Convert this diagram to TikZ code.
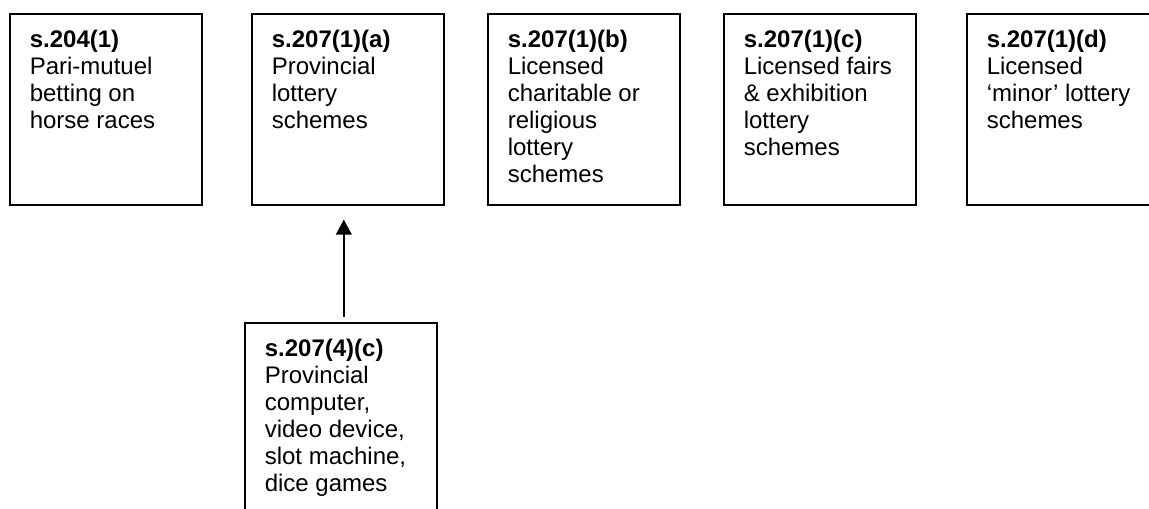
\documentclass[tikz,border=0pt]{standalone}
\usepackage{fontspec}
\setmainfont{Liberation Sans}
\usetikzlibrary{arrows.meta}

\newcommand{\provision}[2]{\parbox[t][143.25pt][t]{144pt}{\fontsize{18pt}{20.25pt}\selectfont\raggedright\leftskip=15pt\rule{0pt}{25.5pt}\textbf{#1}\\#2}}

\begin{document}
\begin{tikzpicture}[>={Triangle[length=11.25pt,width=11.75pt]}, x=0.75pt, y=-0.75pt,
  provbox/.style={draw, line width=1.2pt, anchor=north west, inner sep=0pt}]
\useasboundingbox (0,0) rectangle (1149,508);
\clip (0,0) rectangle (1149,508);
\node[provbox] (Horse) at (9,13) {\provision{s.204(1)}{Pari-mutuel\\betting on\\horse races}};
\node[provbox] (Lottery) at (251,13) {\provision{s.207(1)(a)}{Provincial\\lottery\\schemes}};
\node[provbox] (Charity) at (487,13) {\provision{s.207(1)(b)}{Licensed\\charitable or\\religious\\lottery\\schemes}};
\node[provbox] (Fairs) at (723,13) {\provision{s.207(1)(c)}{Licensed fairs\\\& exhibition\\lottery\\schemes}};
\node[provbox] (Minor) at (966,13) {\provision{s.207(1)(d)}{Licensed\\‘minor’ lottery\\schemes}};
\node[provbox] (Games) at (244,322) {\provision{s.207(4)(c)}{Provincial\\computer,\\video device,\\slot machine,\\dice games}};
\draw[->, line width=1.2pt] ([xshift=2.25pt,yshift=3.75pt]Games.north) -- ([xshift=-3pt,yshift=-10.5pt]Lottery.south);
\end{tikzpicture}
\end{document}
